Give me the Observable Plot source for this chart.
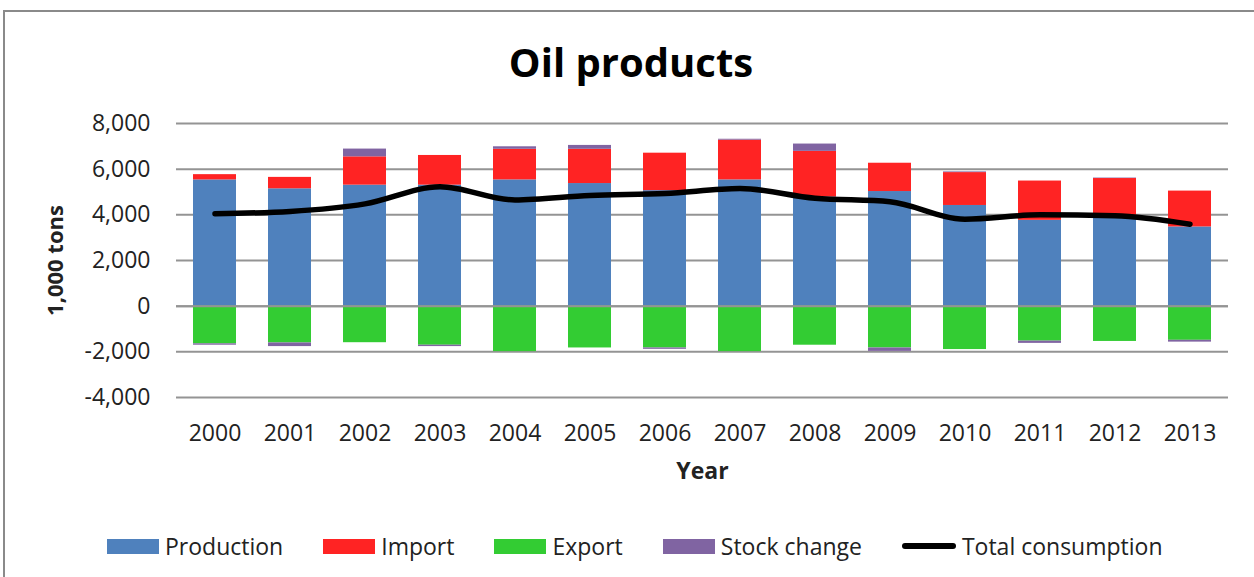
<!DOCTYPE html>
<html>
<head>
<meta charset="utf-8">
<script src="https://cdn.jsdelivr.net/npm/d3@7"></script>
<script src="https://cdn.jsdelivr.net/npm/@observablehq/plot@0.6"></script>
<style>
  body { margin: 0; background: #fff; }
  #wrap { position: relative; width: 1254px; height: 577px; overflow: hidden; font-family: "Open Sans", sans-serif; color: #222; background: #fff; }
  #frame { position: absolute; left: 3px; top: 10px; width: 1300px; height: 640px; border: 2px solid #8a8a8a; box-sizing: border-box; pointer-events: none; }
  #title { height: 100px; box-sizing: border-box; padding-top: 38px; padding-left: 8px; text-align: center; font-size: 40px; font-weight: 700; line-height: 48px; color: #000; }
  #chart svg { display: block; }
  #legend { display: flex; align-items: center; gap: 40px; padding-left: 107px; padding-top: 15px; height: 77px; box-sizing: border-box; font-size: 23px; line-height: 30px; color: #222; }
  .item { display: flex; align-items: center; gap: 6px; white-space: nowrap; }
  .sw { width: 52px; height: 15px; display: inline-block; }
  .ln { width: 54px; height: 6px; border-radius: 3px; background: #000; display: inline-block; }
</style>
</head>
<body>
<div id="wrap">
  <div id="frame"></div>
  <div id="title">Oil products</div>
  <div id="chart"></div>
  <div id="legend"></div>
</div>
<script>
const years = [2000, 2001, 2002, 2003, 2004, 2005, 2006, 2007, 2008, 2009, 2010, 2011, 2012, 2013];
const seriesNames = ["Production", "Import", "Export", "Stock change"];
const production = [5530, 5140, 5300, 5300, 5530, 5370, 5060, 5530, 4780, 5020, 4410, 3760, 3860, 3470];
const importVals = [230, 500, 1240, 1300, 1340, 1500, 1640, 1740, 2000, 1240, 1440, 1720, 1730, 1570];
const exportVals = [-1650, -1610, -1600, -1710, -1990, -1830, -1830, -1990, -1710, -1830, -1900, -1530, -1545, -1495];
const stockChange = [-60, -160, 340, -60, 110, 170, -60, 40, 320, -150, 30, -100, 20, -80];
const totalConsumption = [4050, 4150, 4480, 5230, 4650, 4850, 4930, 5150, 4730, 4570, 3810, 4000, 3960, 3590];
const lineName = "Total consumption";
const colors = ["#4f81bd", "#ff2323", "#33cc33", "#8064a2"];
const yTicks = [-4000, -2000, 0, 2000, 4000, 6000, 8000];

const seriesValues = [production, importVals, exportVals, stockChange];
const rows = [];
seriesNames.forEach((s, i) => {
  years.forEach((y, j) => rows.push({ year: String(y), series: s, value: seriesValues[i][j] }));
});
const lineRows = years.map((y, j) => ({ year: String(y), value: totalConsumption[j] }));

const chart = Plot.plot({
  width: 1254,
  height: 400,
  marginLeft: 176,
  marginRight: 26,
  marginTop: 23,
  marginBottom: 103,
  style: { fontFamily: "Open Sans", fontSize: "23px", color: "#222", background: "white" },
  x: { type: "band", domain: years.map(String), paddingInner: 0.43, paddingOuter: 0.215, label: null },
  y: { domain: [-4000, 8000], label: null },
  color: { domain: seriesNames, range: colors },
  marks: [
    Plot.gridY(yTicks, { stroke: "#949494", strokeOpacity: 1, strokeWidth: 2 }),
    Plot.barY(rows, Plot.stackY({ x: "year", y: "value", fill: "series", order: seriesNames })),
    Plot.ruleY([0], { stroke: "#949494", strokeWidth: 2 }),
    Plot.line(lineRows, { x: "year", y: "value", stroke: "#000", strokeWidth: 5.5, curve: "monotone-x", strokeLinecap: "round", strokeLinejoin: "round" }),
    Plot.axisY(yTicks, { tickSize: 0, tickPadding: 26, tickFormat: d => d.toLocaleString("en-US"), label: null }),
    Plot.axisX({ tickSize: 0, tickPadding: 27, label: null }),
    Plot.axisY([], { label: "1,000 tons", labelAnchor: "center", labelOffset: 129, fontWeight: "bold", fontSize: 22, labelArrow: "none" }),
    Plot.axisX([], { label: "Year", labelAnchor: "center", labelOffset: 81, fontWeight: "bold", fontSize: 23, labelArrow: "none" })
  ]
});
document.getElementById("chart").appendChild(chart);

const legend = document.getElementById("legend");
seriesNames.forEach((s, i) => {
  const it = document.createElement("div");
  it.className = "item";
  const sw = document.createElement("span");
  sw.className = "sw";
  sw.style.background = colors[i];
  const t = document.createElement("span");
  t.textContent = s;
  it.appendChild(sw); it.appendChild(t);
  legend.appendChild(it);
});
{
  const it = document.createElement("div");
  it.className = "item";
  const ln = document.createElement("span");
  ln.className = "ln";
  const t = document.createElement("span");
  t.textContent = lineName;
  it.appendChild(ln); it.appendChild(t);
  legend.appendChild(it);
}
</script>
</body>
</html>
